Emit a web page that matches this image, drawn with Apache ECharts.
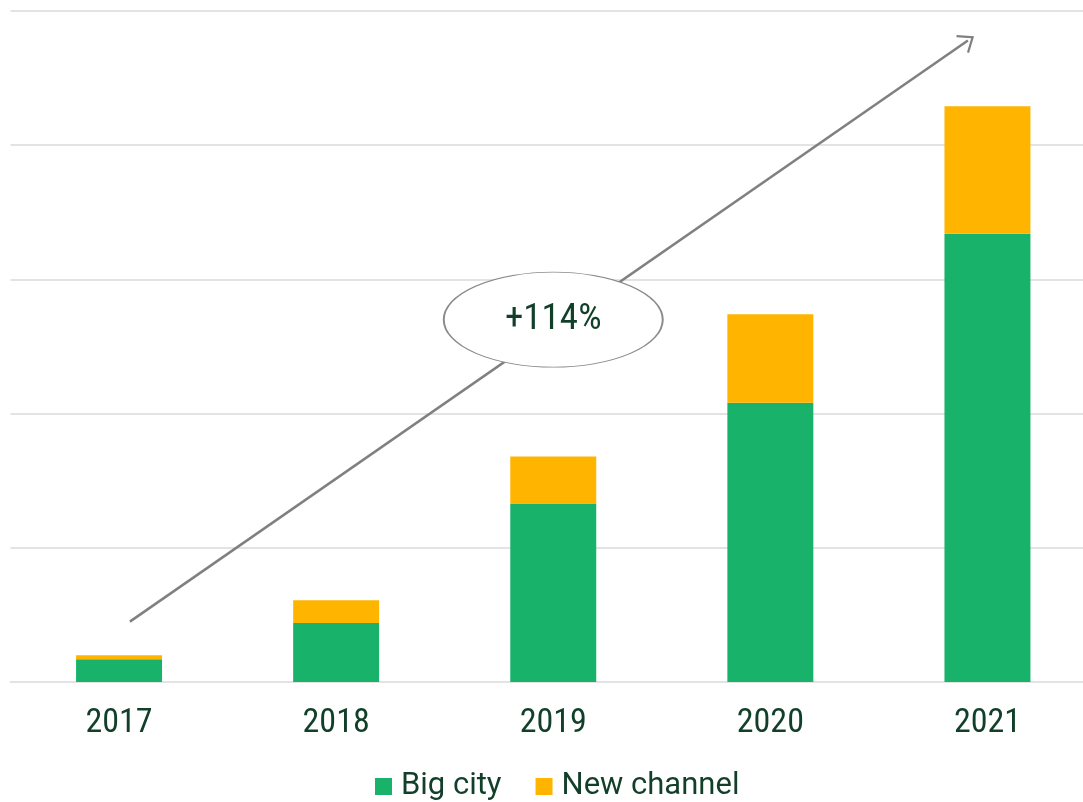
<!DOCTYPE html>
<html>
<head>
<meta charset="utf-8">
<script src="https://cdn.jsdelivr.net/npm/echarts@6/dist/echarts.min.js"></script>
<style>
  html, body { margin: 0; padding: 0; background: #ffffff; overflow: hidden; }
  /* the plot runs a little past the right edge of the window */
  #chart { width: 1096px; height: 802px; }
</style>
</head>
<body>
<div id="chart"></div>
<script>
// Yearly volumes, stacked by channel (one unit per gridline)
const categories = ['2017', '2018', '2019', '2020', '2021'];
const bigCity = [0.17, 0.44, 1.33, 2.08, 3.34];
const newChannel = [0.03, 0.17, 0.35, 0.66, 0.95];
const yTicks = [0, 1, 2, 3, 4, 5];

// Growth annotation: trend arrow and the bubble with its label,
// placed in (category index, value) space
const growthLabel = '+114%';
const arrowFrom = [0.05, 0.45];
const arrowTo = [3.91, 4.78];
const bubbleAt = [2.0, 2.70];

const GREEN = '#19B26B';
const ORANGE = '#FFB400';
const INK = '#123f29';
const GRID = '#e3e3e3';
const ARROW = '#808080';

const chart = echarts.init(document.getElementById('chart'), null, { renderer: 'canvas' });

chart.setOption({
  animation: false,
  backgroundColor: '#ffffff',
  grid: { left: 10.5, right: 0, top: 11, height: 671, containLabel: false },
  legend: {
    data: ['Big city', 'New channel'],
    left: 370,
    top: 766,
    icon: 'rect',
    itemWidth: 17,
    itemHeight: 17,
    itemGap: 34,
    textStyle: { fontFamily: 'Roboto', fontSize: 31, color: INK, padding: [0, 0, 0, 4] }
  },
  xAxis: [
    {
      type: 'category',
      data: categories,
      axisLine: { show: true, lineStyle: { color: GRID, width: 2 } },
      axisTick: { show: false },
      axisLabel: {
        margin: 24,
        fontFamily: '"Liberation Sans Narrow", "Roboto Condensed", Roboto, sans-serif',
        fontSize: 34,
        color: INK
      }
    },
    {
      type: 'value',
      min: -0.5,
      max: 4.5,
      show: false
    }
  ],
  yAxis: {
    type: 'value',
    min: yTicks[0],
    max: yTicks[yTicks.length - 1],
    interval: 1,
    axisLine: { show: false },
    axisTick: { show: false },
    axisLabel: { show: false },
    splitLine: { show: true, lineStyle: { color: GRID, width: 2 } }
  },
  series: [
    {
      name: 'Big city',
      type: 'bar',
      stack: 'total',
      barWidth: '39.6%',
      itemStyle: { color: GREEN },
      data: bigCity
    },
    {
      name: 'New channel',
      type: 'bar',
      stack: 'total',
      barWidth: '39.6%',
      itemStyle: { color: ORANGE },
      data: newChannel
    },
    {
      name: 'trend',
      type: 'line',
      xAxisIndex: 1,
      silent: true,
      symbol: 'none',
      lineStyle: { opacity: 0 },
      z: 5,
      data: [arrowFrom, arrowTo],
      markLine: {
        silent: true,
        symbol: ['none', 'path://M0,0 L10,14 L8.3,15.3 L0,3.6 L-8.3,15.3 L-10,14 Z'],
        symbolSize: [22, 15],
        label: { show: false },
        lineStyle: { color: ARROW, width: 2.5, type: 'solid', opacity: 1 },
        emphasis: { disabled: true },
        data: [[{ coord: arrowFrom }, { coord: arrowTo }]]
      }
    },
    {
      name: 'growth',
      type: 'scatter',
      xAxisIndex: 1,
      silent: true,
      z: 10,
      symbol: 'circle',
      symbolSize: [219, 95],
      itemStyle: { color: '#ffffff', borderColor: '#8a8a8a', borderWidth: 1.3, opacity: 1 },
      label: {
        show: true,
        position: 'inside',
        formatter: growthLabel,
        fontFamily: '"Liberation Sans Narrow", "Roboto Condensed", Roboto, sans-serif',
        fontSize: 37,
        color: INK
      },
      emphasis: { disabled: true },
      data: [bubbleAt]
    }
  ]
});
</script>
</body>
</html>
